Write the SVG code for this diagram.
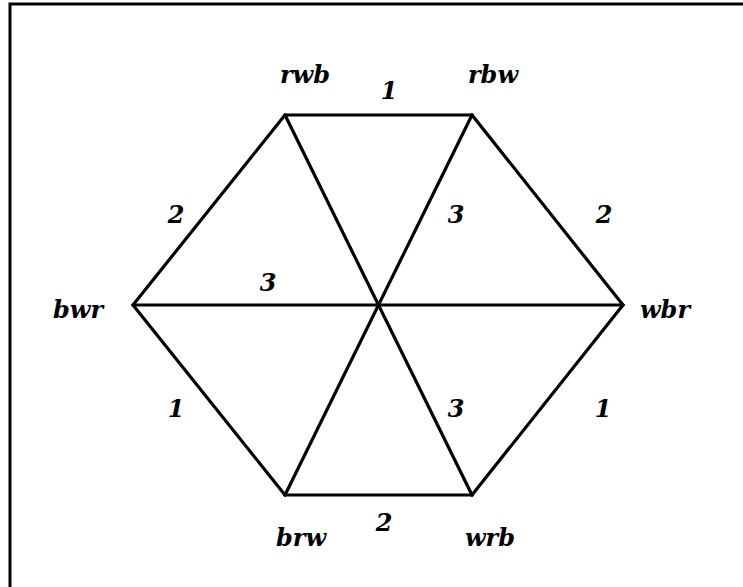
<svg xmlns="http://www.w3.org/2000/svg" width="743" height="587" viewBox="0 0 743 587">
<style>
.edge{stroke:#000;stroke-width:3.2;fill:none;stroke-linecap:round}
.lbl{font-family:"DejaVu Serif","Liberation Serif",serif;font-style:italic;font-weight:bold;font-size:24px;fill:#000;text-anchor:middle}
.num{font-family:"DejaVu Serif","Liberation Serif",serif;font-style:italic;font-weight:bold;font-size:24px;fill:#000;text-anchor:middle}
</style>
<rect x="0" y="0" width="743" height="587" fill="#fff"/>
<rect x="10" y="4" width="760" height="600" fill="none" stroke="#000" stroke-width="3"/>
<g id="connectors">
<line class="edge" x1="285" y1="115" x2="472" y2="115"/>
<line class="edge" x1="472" y1="115" x2="623" y2="305"/>
<line class="edge" x1="623" y1="305" x2="472" y2="495"/>
<line class="edge" x1="472" y1="495" x2="285" y2="495"/>
<line class="edge" x1="285" y1="495" x2="133" y2="305"/>
<line class="edge" x1="133" y1="305" x2="285" y2="115"/>
<line class="edge" x1="285" y1="115" x2="472" y2="495"/>
<line class="edge" x1="472" y1="115" x2="285" y2="495"/>
<line class="edge" x1="133" y1="305" x2="623" y2="305"/>
<text class="num" x="389" y="99">1</text>
<text class="num" x="176" y="223">2</text>
<text class="num" x="456" y="223">3</text>
<text class="num" x="604" y="223">2</text>
<text class="num" x="268" y="291">3</text>
<text class="num" x="176" y="417">1</text>
<text class="num" x="456" y="417">3</text>
<text class="num" x="603" y="417">1</text>
<text class="num" x="384" y="531">2</text>
</g>
<g id="rwb"><text class="lbl" x="305" y="83">rwb</text></g>
<g id="rbw"><text class="lbl" x="493" y="83">rbw</text></g>
<g id="wbr"><text class="lbl" x="665" y="318">wbr</text></g>
<g id="wrb"><text class="lbl" x="490" y="546">wrb</text></g>
<g id="brw"><text class="lbl" x="301" y="546">brw</text></g>
<g id="bwr"><text class="lbl" x="78" y="318">bwr</text></g>
</svg>
